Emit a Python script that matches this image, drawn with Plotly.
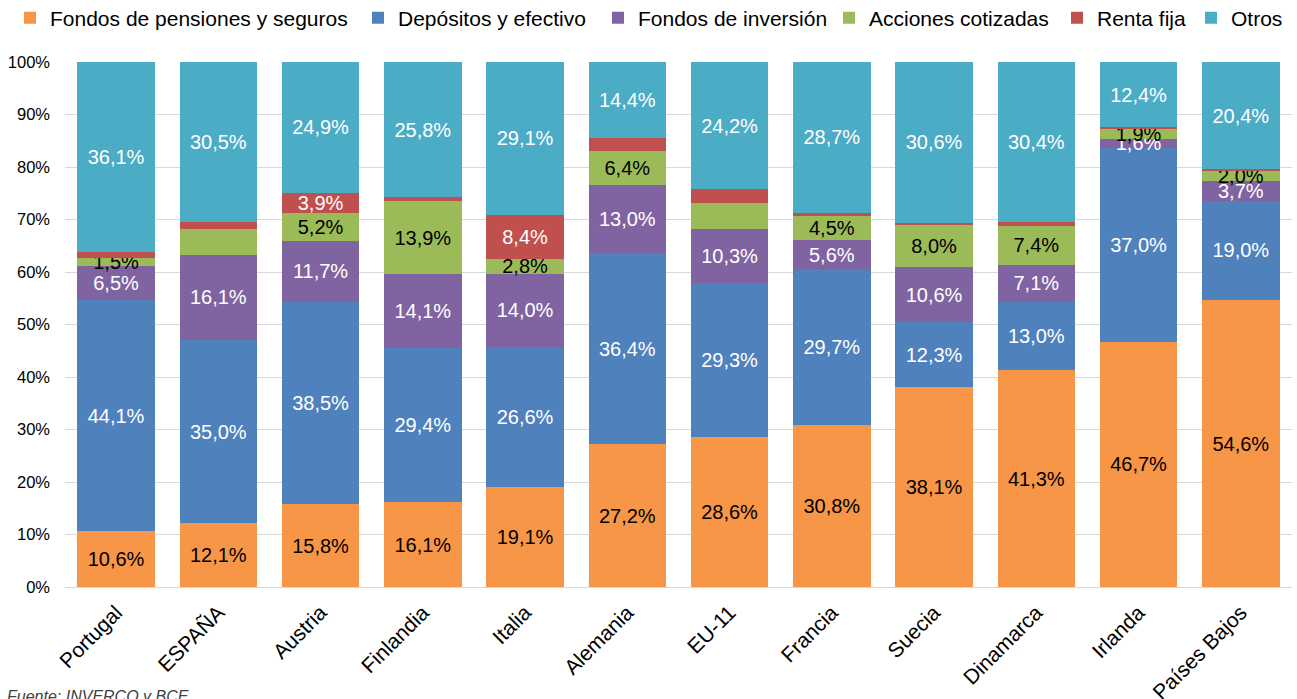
import plotly.graph_objects as go

# Composición del ahorro financiero de los hogares (% del total)
paises = ['Portugal', 'ESPAÑA', 'Austria', 'Finlandia', 'Italia', 'Alemania',
          'EU-11', 'Francia', 'Suecia', 'Dinamarca', 'Irlanda', 'Países Bajos']

pensiones = [10.6, 12.1, 15.8, 16.1, 19.1, 27.2, 28.6, 30.8, 38.1, 41.3, 46.7, 54.6]
depositos = [44.1, 35.0, 38.5, 29.4, 26.6, 36.4, 29.3, 29.7, 12.3, 13.0, 37.0, 19.0]
inversion = [6.5, 16.1, 11.7, 14.1, 14.0, 13.0, 10.3, 5.6, 10.6, 7.1, 1.6, 3.7]
acciones = [1.5, 5.0, 5.2, 13.9, 2.8, 6.4, 4.9, 4.5, 8.0, 7.4, 1.9, 2.0]
renta_fija = [1.2, 1.3, 3.9, 0.7, 8.4, 2.6, 2.7, 0.7, 0.4, 0.8, 0.4, 0.3]
otros = [36.1, 30.5, 24.9, 25.8, 29.1, 14.4, 24.2, 28.7, 30.6, 30.4, 12.4, 20.4]

# which segments carry a data label in the original
etiqueta_acciones = [True, False, True, True, True, True, False, True, True, True, True, True]
etiqueta_renta_fija = [False, False, True, False, True, False, False, False, False, False, False, False]


def fmt(valores, mostrar=None):
    """Spanish style labels: 36,1%"""
    out = []
    for i, v in enumerate(valores):
        if mostrar is not None and not mostrar[i]:
            out.append("")
        else:
            out.append(f"{v:.1f}%".replace('.', ','))
    return out


series = [
    ('Fondos de pensiones y seguros', pensiones, None, '#F79646', 'black'),
    ('Depósitos y efectivo', depositos, None, '#4F81BD', 'white'),
    ('Fondos de inversión', inversion, None, '#8064A2', 'white'),
    ('Acciones cotizadas', acciones, etiqueta_acciones, '#9BBB59', 'black'),
    ('Renta fija', renta_fija, etiqueta_renta_fija, '#C0504D', 'white'),
    ('Otros', otros, None, '#4BACC6', 'white'),
]

# legend text left edges (px) in the original, one legend per entry
legend_text_x = [50, 398, 638, 869, 1097, 1231]

W, H = 1297, 699
FONT = 'Liberation Sans, Arial, sans-serif'
fig = go.Figure()
layout_legends = {}
for i, (nombre, valores, mostrar, color, color_txt) in enumerate(series):
    leg = 'legend' if i == 0 else f'legend{i + 1}'
    fig.add_trace(go.Bar(
        x=paises, y=valores, name=nombre,
        marker=dict(color=color, line=dict(width=0)),
        text=fmt(valores, mostrar),
        textposition='inside',
        insidetextanchor='middle',
        textangle=0,
        textfont=dict(family=FONT, size=20, color=color_txt),
        legend=leg,
        hoverinfo='x+y+name',
    ))
    layout_legends[leg] = dict(
        xref='container', yref='container',
        x=(legend_text_x[i] - 40) / W, y=1 - 18 / H,
        xanchor='left', yanchor='middle',
        orientation='h', bgcolor='rgba(0,0,0,0)',
        font=dict(family=FONT, size=21, color='black'),
    )

fig.update_layout(
    barmode='stack',
    bargap=0.24,
    width=W, height=H,
    margin=dict(l=65, r=5, t=62, b=112),
    plot_bgcolor='white', paper_bgcolor='white',
    uniformtext=dict(minsize=20, mode='show'),
    font=dict(family=FONT, color='black'),
    showlegend=True,
    **layout_legends,
)
fig.update_yaxes(
    range=[0, 100], dtick=10, ticksuffix='%',
    showgrid=True, gridcolor='#d9d9d9', gridwidth=1,
    zeroline=False, showline=False,
    tickfont=dict(size=16.5, color='black'),
    ticks='', ticklabelstandoff=14,
    automargin=False,
)
fig.update_xaxes(
    tickangle=-45,
    tickfont=dict(size=21, color='black'),
    showline=True, linecolor='#d9d9d9', linewidth=1,
    ticks='', ticklabelstandoff=4,
    automargin=False,
)

fig.add_annotation(
    text='<i>Fuente: INVERCO y BCE</i>',
    xref='paper', yref='paper',
    x=(5 - 65) / 1227, y=-(686 - 587) / 525,
    xanchor='left', yanchor='top', showarrow=False,
    font=dict(family=FONT, size=16, color='#404040'),
)

# drop the default page margin so the figure sits at the window's top-left corner
fig.write_html("out.html", config={'displayModeBar': False},
               post_script="document.body.style.margin='0px';")
